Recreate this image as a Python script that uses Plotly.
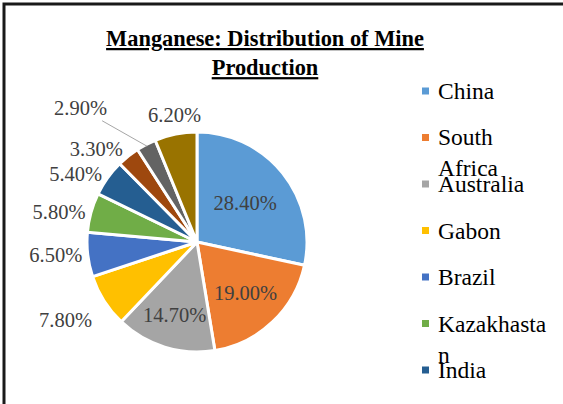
import math
import plotly.graph_objects as go

W, H = 563, 404

countries = ["China", "South<br>Africa", "Australia", "Gabon", "Brazil",
             "Kazakhasta<br>n", "India", "Ghana", "Ukraine", "Others"]
shares = [28.4, 19.0, 14.7, 7.8, 6.5, 5.8, 5.4, 3.3, 2.9, 6.2]
colors = ["#5B9BD5", "#ED7D31", "#A5A5A5", "#FFC000", "#4472C4",
          "#70AD47", "#255E91", "#9E480E", "#636363", "#997300"]
label_pos = ["inside", "inside", "inside", "none", "outside",
             "outside", "outside", "outside", "none", "none"]

SERIF = "Liberation Serif"
LABEL_FONT = dict(family=SERIF, size=20.5, color="#404040")


def fx(px):
    return px / W


def fy(py):
    return 1 - py / H


# pie centre / radius in pixels
cx, cy, r = 197, 242, 110

fig = go.Figure(
    data=go.Pie(
        labels=[c.replace("<br>", " ") for c in countries],
        values=shares,
        sort=False,
        direction="clockwise",
        rotation=0,
        marker=dict(colors=colors, line=dict(color="white", width=3)),
        texttemplate="%{value:.2f}%",
        textposition=label_pos,
        textfont=LABEL_FONT,
        insidetextorientation="horizontal",
        showlegend=False,
        domain=dict(x=[fx(cx - r), fx(cx + r)], y=[fy(cy + r), fy(cy - r)]),
    )
)

total = sum(shares)


def edge_point(k, dist):
    # point on the bisector of slice k, dist px from the centre
    mid = 2 * math.pi * (sum(shares[:k]) + shares[k] / 2) / total
    return fx(cx + dist * math.sin(mid)), fy(cy - dist * math.cos(mid))


# labels placed by hand where plotly's outside placement drifts from the original
x, y = edge_point(3, r + 12)
fig.add_annotation(x=x, y=y, xref="paper", yref="paper", text=f"{shares[3]:.2f}%",
                   xanchor="right", yanchor="top", showarrow=False, font=LABEL_FONT)
x, y = edge_point(9, r + 6)
fig.add_annotation(x=x, y=y, xref="paper", yref="paper", text=f"{shares[9]:.2f}%",
                   xanchor="center", yanchor="bottom", showarrow=False, font=LABEL_FONT)
# the thin 2.90% slice gets its label pulled out with a leader line
x, y = edge_point(8, r - 2)
fig.add_annotation(x=x, y=y, xref="paper", yref="paper", text=f"{shares[8]:.2f}%",
                   showarrow=True, arrowhead=0, arrowwidth=1, arrowcolor="#A6A6A6",
                   ax=-67, ay=-38, standoff=0, font=LABEL_FONT)

# hand-built legend (the original is clipped at the bottom of the frame)
for i, (name, col) in enumerate(zip(countries, colors)):
    yc = 91 + i * 46.5
    fig.add_shape(type="rect", xref="paper", yref="paper",
                  x0=fx(422), x1=fx(429), y0=fy(yc + 3.5), y1=fy(yc - 3.5),
                  fillcolor=col, line=dict(width=0))
    fig.add_annotation(x=fx(436), y=fy(yc - 15), xref="paper", yref="paper",
                       xanchor="left", yanchor="top", align="left",
                       text=name, showarrow=False,
                       font=dict(family=SERIF, size=23.5, color="#000000"))

# chart frame (only left and top edges visible in the crop)
fig.add_shape(type="rect", xref="paper", yref="paper",
              x0=fx(4), x1=fx(W + 20), y0=fy(H + 20), y1=fy(4),
              line=dict(color="#1a1a1a", width=3))

fig.update_layout(
    width=W, height=H,
    margin=dict(l=0, r=0, t=0, b=0),
    paper_bgcolor="white",
    plot_bgcolor="white",
    title=dict(text="<b><u>Manganese: Distribution of Mine<br>Production</u></b>",
               x=fx(265), xanchor="center", y=fy(46), yanchor="top",
               font=dict(family=SERIF, size=22.4, color="#000000")),
)

fig.write_html("out.html", config={"displayModeBar": False},
               post_script="document.body.style.margin = '0';")
